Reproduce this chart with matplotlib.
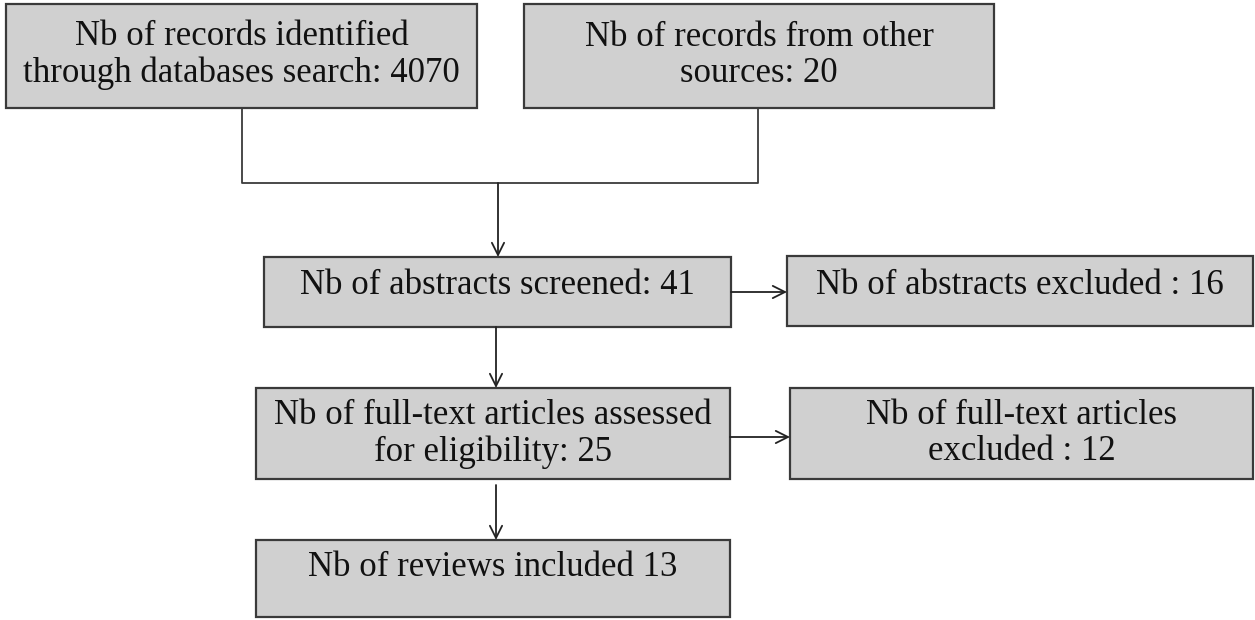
import matplotlib.pyplot as plt
from matplotlib.patches import Rectangle

# box labels
labels = [
    "Nb of records identified\nthrough databases search: 4070",
    "Nb of records from other\nsources: 20",
    "Nb of abstracts screened: 41",
    "Nb of abstracts excluded : 16",
    "Nb of full-text articles assessed\nfor eligibility: 25",
    "Nb of full-text articles\nexcluded : 12",
    "Nb of reviews included 13",
]

# layout in pixels: x0, y0, x1, y1, text y
boxes = [
    (6, 4, 477, 108, 55),
    (524, 4, 994, 108, 55),
    (264, 257, 731, 327, 285),
    (787, 256, 1253, 326, 285),
    (256, 388, 730, 479, 434),
    (790, 388, 1253, 479, 434),
    (256, 540, 730, 617, 567),
]

FILL = "#d0d0d0"
EDGE = "#3a3a3a"

fig = plt.figure(figsize=(12.55, 6.2), dpi=100)
ax = fig.add_axes([0, 0, 1, 1])
ax.set_xlim(0, 1255)
ax.set_ylim(620, 0)
ax.axis("off")

for (x0, y0, x1, y1, ty), txt in zip(boxes, labels):
    ax.add_patch(Rectangle((x0, y0), x1 - x0, y1 - y0, facecolor=FILL,
                           edgecolor=EDGE, linewidth=1.6))
    ax.text((x0 + x1) / 2, ty, txt, ha="center", va="center",
            multialignment="center", fontsize=25, linespacing=1.12,
            family="Liberation Serif", color="#111111")


def line(xs, ys):
    ax.plot(xs, ys, color=EDGE, linewidth=1.3, solid_capstyle="butt")


def arrow(x0, y0, x1, y1):
    ax.annotate("", xy=(x1, y1), xytext=(x0, y0),
                arrowprops=dict(arrowstyle="->", color="#222222", lw=1.3,
                                mutation_scale=22, shrinkA=0, shrinkB=0))


# merge of the two top boxes
line([242, 242, 758, 758], [108, 183, 183, 108])
arrow(498, 183, 498, 257)
# screened -> excluded, screened -> full text
arrow(731, 292, 787, 292)
arrow(496, 327, 496, 388)
# full text -> excluded, full text -> included
arrow(730, 437, 790, 437)
arrow(496, 485, 496, 540)

fig.savefig("out.png", dpi=100, facecolor="white")
